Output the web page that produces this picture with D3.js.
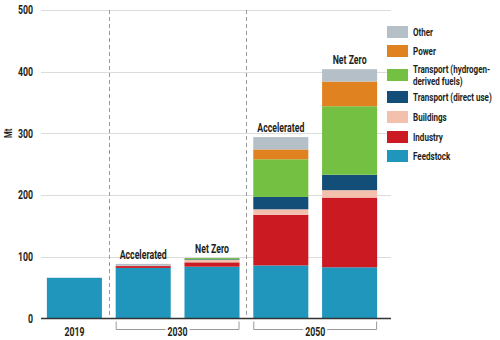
<!DOCTYPE html>
<html>
<head>
<meta charset="utf-8">
<script src="https://cdn.jsdelivr.net/npm/d3@7"></script>
<style>
  body { margin: 0; background: #fff; }
  text { font-family: "Roboto", "DejaVu Sans Condensed", sans-serif; font-weight: 700; fill: #231f20; }
</style>
</head>
<body>
<div id="chart"></div>
<script>
// hydrogen demand by sector, Mt
const bars = ['2019', '2030 Accelerated', '2030 Net Zero', '2050 Accelerated', '2050 Net Zero']
const barLabels = ['', 'Accelerated', 'Net Zero', 'Accelerated', 'Net Zero']

const sectors = ['Feedstock', 'Industry', 'Buildings', 'Transport (direct use)', 'Transport (hydrogen-derived fuels)', 'Power', 'Other']
const colors = ['#2196bd', '#cb1a22', '#f3c0ae', '#124e78', '#73c043', '#e0821f', '#b5bfc8']

const feedstock = [66, 82, 84, 86, 83]
const industry = [0, 3, 7, 82, 113]
const buildings = [0, 0.5, 4, 9, 12]
const transportDirect = [0, 0, 1, 20, 25]
const transportH2 = [0, 0, 2, 61, 111]
const power = [0, 0, 0, 16, 40]
const other = [0, 3, 0, 20, 20]

const yTicks = [0, 100, 200, 300, 400, 500]
const groupLabels = ['2019', '2030', '2050']
const groupBars = [[0], [1, 2], [3, 4]]

const series = [feedstock, industry, buildings, transportDirect, transportH2, power, other]
const table = bars.map((b, i) => {
  const row = { bar: b }
  sectors.forEach((s, j) => { row[s] = series[j][i] })
  return row
})

const width = 500
const height = 340
const margin = { top: 10, left: 40, right: 116, bottom: 22 }
const squeeze = 0.7

// condensed text: position through a transform so it can be narrowed
function place(sel, fx, fy, rot) {
  sel.attr('transform', function(d, i) {
    const r = rot ? ` rotate(${rot})` : ''
    return `translate(${fx(d, i)},${fy(d, i)})${r} scale(${squeeze},1)`
  })
}

const svg = d3.select('#chart')
  .append('svg')
  .attr('width', width)
  .attr('height', height)

const x = d3.scaleBand()
  .domain(bars)
  .range([margin.left, width - margin.right])
  .paddingInner(0.2)
  .paddingOuter(0.1)

const y = d3.scaleLinear()
  .domain([0, 500])
  .range([height - margin.bottom + 0.5, margin.top])

const color = d3.scaleOrdinal().domain(sectors).range(colors)

// gridlines + tick labels
const grid = svg.append('g')
grid.selectAll('line')
  .data(yTicks.slice(1))
  .enter()
  .append('line')
  .attr('x1', margin.left + 1)
  .attr('x2', width - margin.right + 7)
  .attr('y1', d => Math.round(y(d)) + 0.5)
  .attr('y2', d => Math.round(y(d)) + 0.5)
  .attr('stroke', '#dcdcdc')
  .attr('stroke-width', 1.2)

grid.selectAll('text')
  .data(yTicks)
  .enter()
  .append('text')
  .text(d => d)
  .attr('dy', '0.35em')
  .attr('text-anchor', 'end')
  .attr('font-size', 12.5)
  .call(place, () => 33, d => y(d))

svg.append('text')
  .datum('Mt')
  .text(d => d)
  .attr('text-anchor', 'middle')
  .attr('dy', '0.35em')
  .attr('font-size', 11)
  .call(place, () => 8, () => y(300), -90)

// dashed separators between the years
const sepX = [
  (x(bars[0]) + x.bandwidth() + x(bars[1])) / 2,
  (x(bars[2]) + x.bandwidth() + x(bars[3])) / 2
]
svg.selectAll('.sep')
  .data(sepX)
  .enter()
  .append('line')
  .attr('class', 'sep')
  .attr('x1', d => Math.round(d) + 0.5)
  .attr('x2', d => Math.round(d) + 0.5)
  .attr('y1', y(500))
  .attr('y2', y(0) - 2)
  .attr('stroke', '#9a9a9a')
  .attr('stroke-dasharray', '4,3')

// stacked bars
const stacked = d3.stack().keys(sectors)(table)

svg.append('g')
  .selectAll('g')
  .data(stacked)
  .enter()
  .append('g')
  .attr('fill', d => color(d.key))
  .selectAll('rect')
  .data(d => d)
  .enter()
  .append('rect')
  .attr('x', d => x(d.data.bar))
  .attr('width', x.bandwidth())
  .attr('y', d => y(d[1]))
  .attr('height', d => y(d[0]) - y(d[1]))

// scenario labels above bars
svg.selectAll('.scen')
  .data(bars)
  .enter()
  .append('text')
  .attr('class', 'scen')
  .text((d, i) => barLabels[i])
  .attr('text-anchor', 'middle')
  .attr('font-size', 12.5)
  .call(place, d => x(d) + x.bandwidth() / 2, (d, i) => y(d3.sum(series, s => s[i])) - 5)

// baseline
svg.append('line')
  .attr('x1', margin.left + 1)
  .attr('x2', width - margin.right + 7)
  .attr('y1', y(0))
  .attr('y2', y(0))
  .attr('stroke', '#333')
  .attr('stroke-width', 1.5)

// year labels and brackets
const labelY = 332
groupLabels.forEach((label, i) => {
  const idx = groupBars[i]
  const x0 = x(bars[idx[0]])
  const x1 = x(bars[idx[idx.length - 1]]) + x.bandwidth()
  const cx = (x0 + x1) / 2
  if (idx.length > 1) {
    const half = 12
    svg.append('path')
      .attr('d', `M${x0 + 0.5},${y(0) + 3}V329.5H${cx - half}M${cx + half},329.5H${x1 - 0.5}V${y(0) + 3}`)
      .attr('fill', 'none')
      .attr('stroke', '#9a9a9a')
      .attr('stroke-width', 1)
  }
  svg.append('text')
    .datum(label)
    .text(d => d)
    .attr('dy', '0.35em')
    .attr('text-anchor', 'middle')
    .attr('font-size', 12.5)
    .call(place, () => cx, () => labelY)
})

// legend, top item first
const legendItems = sectors.slice().reverse()
const legendY = [32, 51, 75, 97, 117, 137, 156]
const legend = svg.append('g')

legend.selectAll('.legend')
  .data(legendItems)
  .enter()
  .append('g')
  .attr('class', 'legend')
  .attr('transform', (d, i) => `translate(387,${legendY[i]})`)
  .each(function(d) {
    const g = d3.select(this)
    g.append('rect')
      .attr('x', 0)
      .attr('y', -6)
      .attr('width', 21)
      .attr('height', 12)
      .attr('fill', color(d))

    const lines = d === 'Transport (hydrogen-derived fuels)'
      ? ['Transport (hydrogen-', 'derived fuels)']
      : [d]
    g.selectAll('text')
      .data(lines)
      .enter()
      .append('text')
      .text(t => t)
      .attr('dy', '0.35em')
      .attr('font-size', 11.5)
      .call(place, () => 26, (t, j) => (j - (lines.length - 1) / 2) * 12.5)
  })
</script>
</body>
</html>
